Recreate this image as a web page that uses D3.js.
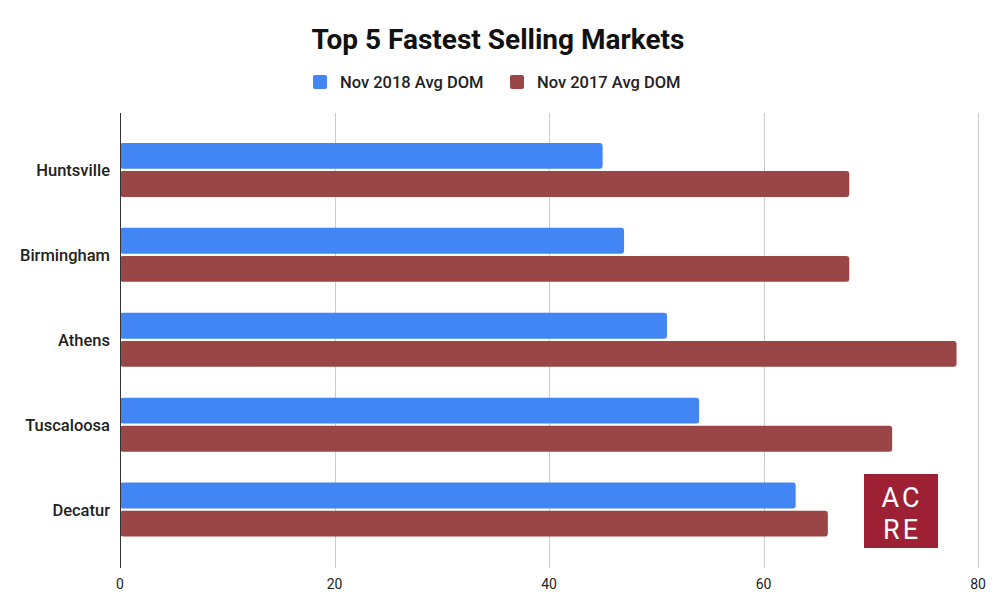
<!DOCTYPE html>
<html><head><meta charset="utf-8">
<script src="https://cdn.jsdelivr.net/npm/d3@7"></script>
<style>body{margin:0;background:#fff}svg{display:block}text{font-family:Roboto,"Noto Sans",sans-serif}</style>
</head><body>
<svg id="c" width="1000" height="608"></svg>
<script>
const categories = ["Huntsville","Birmingham","Athens","Tuscaloosa","Decatur"];
const seriesNames = ["Nov 2018 Avg DOM","Nov 2017 Avg DOM"];
const nov2018 = [45, 47, 51, 54, 63];
const nov2017 = [68, 68, 78, 72, 66];
const xTicks = [0, 20, 40, 60, 80];
const colors = ["#4285f4", "#9b4646"];

const svg = d3.select("#c");
const x = d3.scaleLinear().domain([0, 80]).range([120, 978]);
const y = d3.scaleBand().domain(categories).range([127.5, 552]).paddingInner(0).paddingOuter(0);
const inner = d3.scaleBand().domain([0,1]).range([0, 54]).paddingInner(0.08);
const groupOff = (y.bandwidth() - 54) / 2;

// gridlines
svg.append("g").selectAll("line").data(xTicks.slice(1)).join("line")
  .attr("x1", d => Math.round(x(d)) + 0.5).attr("x2", d => Math.round(x(d)) + 0.5)
  .attr("y1", 113).attr("y2", 568).attr("stroke", "#cccccc").attr("stroke-width", 1);

// bars
const series = [nov2018, nov2017];
categories.forEach((c, i) => {
  series.forEach((s, j) => {
    svg.append("rect")
      .attr("x", x(0))
      .attr("y", y(c) + groupOff + inner(j))
      .attr("width", x(s[i]) - x(0))
      .attr("height", inner.bandwidth())
      .attr("rx", 3).attr("ry", 3)
      .attr("fill", colors[j]);
  });
});

// axis line
svg.append("line").attr("x1", 120.5).attr("x2", 120.5).attr("y1", 113).attr("y2", 568)
  .attr("stroke", "#333").attr("stroke-width", 1);

// x tick labels
svg.append("g").selectAll("text").data(xTicks).join("text")
  .attr("x", d => x(d)).attr("y", 589).attr("text-anchor", "middle")
  .attr("font-size", 14).attr("fill", "#222").text(d => d);

// y labels
svg.append("g").selectAll("text").data(categories).join("text")
  .attr("x", 110).attr("y", d => y(d) + y.bandwidth() / 2 + 6).attr("text-anchor", "end")
  .attr("font-size", 16.5).attr("font-weight", 500).attr("fill", "#222").text(d => d);

// title
svg.append("text").attr("x", 498).attr("y", 49).attr("text-anchor", "middle")
  .attr("font-size", 28).attr("font-weight", 700).attr("fill", "#111").text("Top 5 Fastest Selling Markets");

// legend
const legX = [313, 510];
seriesNames.forEach((n, j) => {
  svg.append("rect").attr("x", legX[j]).attr("y", 75).attr("width", 14).attr("height", 14)
    .attr("rx", 2).attr("fill", colors[j]);
  svg.append("text").attr("x", legX[j] + 27).attr("y", 88).attr("font-size", 16.5)
    .attr("font-weight", 500).attr("fill", "#222").text(n);
});

// logo
svg.append("rect").attr("x", 864).attr("y", 474).attr("width", 74).attr("height", 74).attr("fill", "#9e2035");
svg.append("text").attr("x", 902).attr("y", 507).attr("text-anchor", "middle").attr("font-size", 27)
  .attr("font-weight", 400).attr("fill", "#fff").attr("letter-spacing", 3).text("AC");
svg.append("text").attr("x", 902).attr("y", 539).attr("text-anchor", "middle").attr("font-size", 27)
  .attr("font-weight", 400).attr("fill", "#fff").attr("letter-spacing", 3).text("RE");
</script>
</body></html>
